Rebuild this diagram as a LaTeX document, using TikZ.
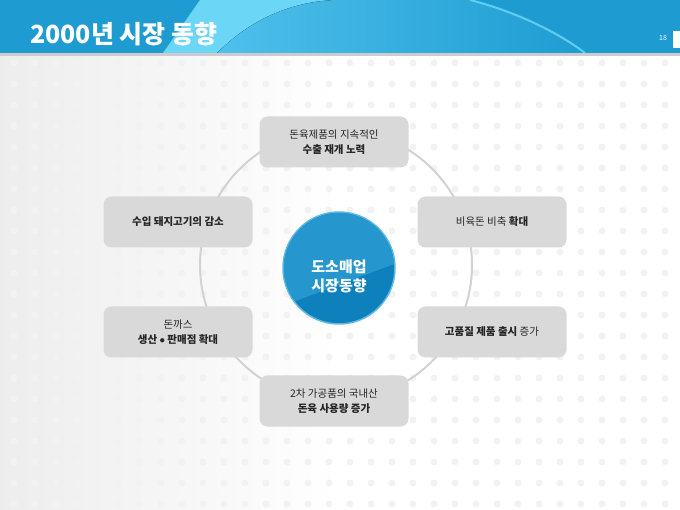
\documentclass[tikz,border=0pt]{standalone}
\usepackage{fontspec}
\setmainfont{Noto Sans CJK KR}
\definecolor{bandblue}{RGB}{30,156,210}
\definecolor{bandlight}{RGB}{108,214,246}
\definecolor{bandmid}{RGB}{78,192,236}
\definecolor{boxgray}{RGB}{217,217,217}
\definecolor{ringgray}{RGB}{210,210,210}
\definecolor{dotgray}{RGB}{242,242,242}
\definecolor{hubdark}{RGB}{14,128,188}
\definecolor{hublight}{RGB}{38,150,206}
\definecolor{hubedge}{RGB}{95,185,228}

\begin{document}
\begin{tikzpicture}[x=1pt,y=-1pt,
  item/.style={fill=boxgray, rounded corners=8pt, minimum width=149pt, minimum height=51pt,
    align=center, text=black!85, font=\fontsize{10.5}{14.5}\selectfont},
  hub/.style={circle, minimum size=112pt, inner sep=0pt, align=center, text=white,
    font=\fontsize{15}{19}\selectfont\bfseries}]
\useasboundingbox (0,0) rectangle (680,510);
\fill[left color=black!7, right color=white, middle color=white] (0,56) rectangle (680,510);
\foreach \i in {0,...,31}
  \foreach \j in {0,...,21}
    \fill[dotgray] (14+21*\i,63+21*\j) circle (3.5);

\fill[bandblue] (0,0) rectangle (680,53);
\fill[bandlight] (163,53) -- (200,0) -- (335,0) -- (335,53) -- cycle;
\fill[left color=bandmid, right color=bandblue] (217,53) .. controls (250,20) and (290,2) .. (335,0)
  -- (470,0) .. controls (510,10) and (555,30) .. (585,53) -- cycle;
\draw[bandlight!60!bandmid, line width=2pt] (470,0) .. controls (510,10) and (555,30) .. (585,53);
\fill[black!20] (0,53) rectangle (680,56);
\node[anchor=base west, text=white, font=\fontsize{25}{25}\selectfont\bfseries, inner sep=0pt] (title) at (30,44) {2000년 시장 동향};
\node[text=white, font=\fontsize{7}{7}\selectfont] (page) at (663,38) {18};
\fill[white] (673,31) rectangle (680,48);

\coordinate (mid) at (336,265);
\draw[ringgray, line width=2pt] (mid) circle (136);

\node[item] (export) at (334,142) {돈육제품의 지속적인\\\textbf{수출 재개 노력}};
\node[item] (hybrid) at (492,222) {비육돈 비축 \textbf{확대}};
\node[item] (premium) at (492,332) {\textbf{고품질 제품 출시} 증가};
\node[item] (domestic) at (334,401) {2차 가공품의 국내산\\\textbf{돈육 사용량 증가}};
\node[item] (cutlet) at (178,332) {돈까스\\\textbf{생산 $\bullet$ 판매점 확대}};
\node[item] (import) at (178,222) {\textbf{수입 돼지고기의 감소}};

\node[hub, draw=hubedge, line width=1.5pt, fill=hubdark] (center) at (339,268) {};
\begin{scope}
  \clip (center.center) circle (55.2);
  \fill[hublight] (center.center) ++(-62,40) -- ++(128,-48) -- ++(0,-70) -- ++(-128,0) -- cycle;
\end{scope}
\node[hub] (hubtext) at (339,276) {도소매업\\시장동향};
\end{tikzpicture}
\end{document}
